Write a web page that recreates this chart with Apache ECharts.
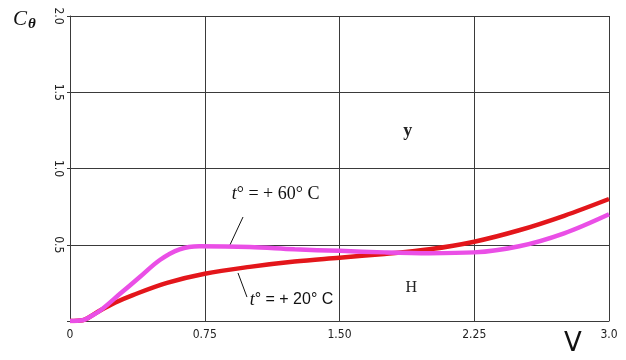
<!DOCTYPE html>
<html>
<head>
<meta charset="utf-8">
<script src="https://cdn.jsdelivr.net/npm/echarts@6/dist/echarts.min.js"></script>
<style>
  html, body { margin: 0; padding: 0; background: #fff; }
  #chart { width: 626px; height: 360px; }
</style>
</head>
<body>
<div id="chart"></div>
<script>
// x ticks and y ticks
const xTicks = ['0', '0.75', '1.50', '2.25', '3.0'];
const yTicks = ['', '0.5', '1.0', '1.5', '2.0'];

// t = +20 C curve (red)
const redV = [0, 0.07, 0.1, 0.17, 0.25, 0.35, 0.54, 0.75, 1.0, 1.25, 1.5, 1.75, 2.0, 2.25, 2.5, 2.75, 3.0];
const redC = [0, 0.005, 0.02, 0.07, 0.12, 0.17, 0.25, 0.31, 0.355, 0.39, 0.415, 0.44, 0.47, 0.52, 0.595, 0.69, 0.80];

// t = +60 C curve (magenta)
const pinkV = [0, 0.07, 0.1, 0.17, 0.28, 0.39, 0.5, 0.61, 0.72, 1.0, 1.25, 1.5, 1.75, 2.0, 2.25, 2.5, 2.75, 3.0];
const pinkC = [0, 0.005, 0.02, 0.07, 0.18, 0.29, 0.40, 0.47, 0.49, 0.485, 0.47, 0.46, 0.45, 0.445, 0.45, 0.49, 0.575, 0.70];

const pair = (xs, ys) => xs.map((x, i) => [x, ys[i]]);

const chart = echarts.init(document.getElementById('chart'));

const axisColor = '#3a3a3a';
const labelFont = '"DejaVu Sans Condensed", "DejaVu Sans", sans-serif';

chart.setOption({
  animation: false,
  grid: { left: 70, right: 17, top: 16, bottom: 39 },
  xAxis: {
    type: 'value',
    min: 0, max: 3, interval: 0.75,
    axisLine: { lineStyle: { color: axisColor, width: 1 } },
    axisTick: { show: false },
    splitLine: { lineStyle: { color: axisColor, width: 1 } },
    axisLabel: {
      color: '#222', fontSize: 12, fontFamily: labelFont, margin: 8,
      formatter: (v) => xTicks[Math.round(v / 0.75)]
    }
  },
  yAxis: {
    type: 'value',
    min: 0, max: 2, interval: 0.5,
    axisLine: { show: true, lineStyle: { color: axisColor, width: 1 } },
    axisTick: { show: true, length: 3, inside: false, lineStyle: { color: axisColor } },
    splitLine: { lineStyle: { color: axisColor, width: 1 } },
    axisLabel: {
      color: '#222', fontSize: 12, fontFamily: labelFont, margin: 6, rotate: -90,
      formatter: (v) => yTicks[Math.round(v / 0.5)]
    }
  },
  series: [
    {
      name: 't = +20 C',
      type: 'line',
      data: pair(redV, redC),
      smooth: 0.35,
      showSymbol: false,
      lineStyle: { color: '#e3161b', width: 4.5 }
    },
    {
      name: 't = +60 C',
      type: 'line',
      data: pair(pinkV, pinkC),
      smooth: 0.35,
      showSymbol: false,
      lineStyle: { color: '#ea4fe6', width: 4.5 }
    }
  ]
});

// annotations placed through the chart's own coordinate system
const px = (v, c) => chart.convertToPixel({ gridIndex: 0 }, [v, c]);
const serif = '"Liberation Serif", "DejaVu Serif", serif';
const sans = '"Liberation Sans", Arial, sans-serif';

const a60 = px(0.9, 0.83);
const a60line0 = px(0.963, 0.682);
const a60line1 = px(0.89, 0.498);
const a20line0 = px(0.935, 0.315);
const a20line1 = px(0.985, 0.157);
const a20 = px(1.0, 0.138);
const yLbl = px(1.88, 1.245);
const hLbl = px(1.90, 0.215);

function tempLabel(pos, txt, font) {
  return {
    type: 'text', x: pos[0], y: pos[1],
    style: {
      text: '{i|t}{n|° = + ' + txt + '° C}',
      rich: {
        i: { fontFamily: serif, fontStyle: 'italic', fontSize: 18, fill: '#111' },
        n: { fontFamily: font, fontSize: font === sans ? 16 : 18, fill: '#111' }
      },
      textVerticalAlign: 'middle'
    }
  };
}

chart.setOption({
  graphic: [
    tempLabel(a60, '60', serif),
    tempLabel(a20, '20', sans),
    {
      type: 'line',
      shape: { x1: a60line0[0], y1: a60line0[1], x2: a60line1[0], y2: a60line1[1] },
      style: { stroke: '#111', lineWidth: 1 }
    },
    {
      type: 'line',
      shape: { x1: a20line0[0], y1: a20line0[1], x2: a20line1[0], y2: a20line1[1] },
      style: { stroke: '#111', lineWidth: 1 }
    },
    {
      type: 'text', x: yLbl[0], y: yLbl[1],
      style: { text: 'у', fontFamily: serif, fontSize: 18, fontWeight: 'bold', fill: '#222', textAlign: 'center', textVerticalAlign: 'middle' }
    },
    {
      type: 'text', x: hLbl[0], y: hLbl[1],
      style: { text: 'Н', fontFamily: serif, fontSize: 16, fill: '#222', textAlign: 'center', textVerticalAlign: 'middle' }
    },
    {
      type: 'text', left: 13, top: 9,
      style: {
        text: '{c|C}{t|θ}',
        rich: {
          c: { fontFamily: serif, fontStyle: 'italic', fontSize: 21, fill: '#111' },
          t: { fontFamily: serif, fontStyle: 'italic', fontWeight: 'bold', fontSize: 15, fill: '#111', padding: [10, 0, 0, 1] }
        }
      }
    },
    {
      type: 'text', left: 564, top: 331,
      style: { text: 'V', fontFamily: '"DejaVu Sans", sans-serif', fontSize: 26, fill: '#111' }
    }
  ]
});
</script>
</body>
</html>
